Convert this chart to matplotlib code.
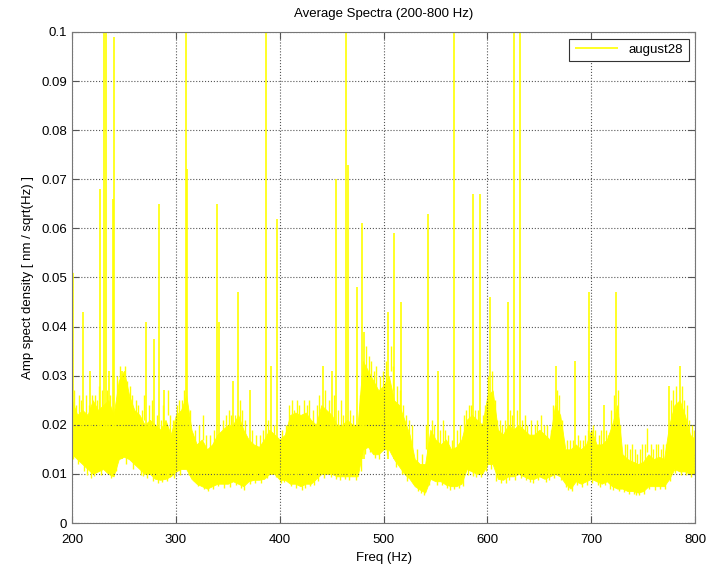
import numpy as np
import matplotlib
matplotlib.use('Agg')
import matplotlib.pyplot as plt

plt.rcParams['font.family'] = ['Liberation Sans', 'DejaVu Sans']

# banda de ruido: envelope inferior e superior a cada 5 Hz
freq = np.arange(200, 801, 5)
superior = [0.025, 0.022, 0.023, 0.022, 0.025, 0.023, 0.024, 0.025, 0.022, 0.029,
            0.031, 0.026, 0.023, 0.022, 0.020, 0.021, 0.020, 0.019, 0.021, 0.018,
            0.022, 0.023, 0.026, 0.019, 0.016, 0.017, 0.015, 0.016, 0.018, 0.019,
            0.020, 0.020, 0.022, 0.019, 0.017, 0.016, 0.0155, 0.017, 0.019, 0.018,
            0.017, 0.018, 0.022, 0.0225, 0.022, 0.0225, 0.021, 0.020, 0.024, 0.023,
            0.022, 0.020, 0.020, 0.021, 0.020, 0.020, 0.033, 0.031, 0.029, 0.027,
            0.028, 0.030, 0.025, 0.024, 0.021, 0.018, 0.013, 0.012, 0.012, 0.019,
            0.017, 0.016, 0.017, 0.015, 0.0155, 0.017, 0.021, 0.022, 0.021, 0.020,
            0.026, 0.027, 0.019, 0.018, 0.020, 0.019, 0.020, 0.019, 0.018, 0.018,
            0.019, 0.018, 0.017, 0.024, 0.022, 0.015, 0.015, 0.016, 0.015, 0.016,
            0.019, 0.016, 0.016, 0.017, 0.020, 0.024, 0.014, 0.013, 0.0125, 0.012,
            0.0125, 0.014, 0.013, 0.0135, 0.013, 0.020, 0.024, 0.025, 0.022, 0.018,
            0.017]
inferior = [0.014, 0.013, 0.012, 0.011, 0.010, 0.0105, 0.011, 0.010, 0.0095, 0.013,
            0.0135, 0.013, 0.012, 0.011, 0.010, 0.010, 0.009, 0.0088, 0.009, 0.0095,
            0.0105, 0.011, 0.011, 0.009, 0.008, 0.0075, 0.007, 0.0075, 0.008, 0.008,
            0.008, 0.0085, 0.008, 0.0075, 0.0085, 0.0088, 0.0088, 0.009, 0.010, 0.010,
            0.0088, 0.0088, 0.008, 0.008, 0.0075, 0.008, 0.008, 0.009, 0.010, 0.010,
            0.010, 0.0095, 0.0095, 0.0095, 0.0095, 0.0095, 0.015, 0.0155, 0.014, 0.014,
            0.015, 0.015, 0.013, 0.0115, 0.010, 0.009, 0.0075, 0.0068, 0.0062, 0.009,
            0.0085, 0.0085, 0.0078, 0.0075, 0.0075, 0.008, 0.011, 0.0105, 0.010, 0.010,
            0.012, 0.012, 0.009, 0.0088, 0.0095, 0.0095, 0.010, 0.0095, 0.009, 0.009,
            0.0095, 0.009, 0.0095, 0.010, 0.0095, 0.008, 0.007, 0.0085, 0.008, 0.0085,
            0.009, 0.0085, 0.008, 0.0085, 0.0075, 0.007, 0.007, 0.0065, 0.0065, 0.0062,
            0.0065, 0.0075, 0.0075, 0.0075, 0.0075, 0.009, 0.011, 0.0105, 0.0105, 0.010,
            0.010]

# picos fortes - os que passam de 0.1 foram cortados no grafico
pico_freq = [200.5, 211, 217, 227, 231, 232.5, 236, 239.7, 240.7, 248,
             271, 279, 283.5, 289, 309.5, 311, 340, 342, 355, 360,
             371, 387, 392, 397.5, 442, 450, 454, 464, 465.5, 474,
             479.5, 481, 504, 510.5, 517, 543, 552, 568, 586, 593,
             602, 620, 626, 631, 666, 684.5, 698, 712, 724, 775, 785]
pico_alt = [0.051, 0.043, 0.031, 0.068, 0.15, 0.15, 0.031, 0.066, 0.099, 0.031,
            0.041, 0.0375, 0.065, 0.027, 0.15, 0.072, 0.065, 0.041, 0.029, 0.047,
            0.027, 0.15, 0.032, 0.062, 0.032, 0.031, 0.070, 0.15, 0.073, 0.048,
            0.061, 0.039, 0.043, 0.059, 0.045, 0.063, 0.031, 0.15, 0.067, 0.067,
            0.046, 0.045, 0.15, 0.15, 0.032, 0.033, 0.047, 0.024, 0.047, 0.028, 0.032]

# dentes pequenos acima da banda (borda serrilhada)
dente_freq = [202, 204, 207, 209, 213, 216, 219, 222, 224, 226, 229, 234, 237, 243, 246,
              249, 251, 253, 256, 258, 262, 264, 267, 269, 274, 277, 282, 286, 288, 292,
              294, 297, 301, 303, 306, 308, 314, 318, 322, 326, 329, 333, 337, 345, 348,
              351, 353, 357, 362, 364, 367, 373, 377, 381, 384, 389, 394, 402, 406, 409,
              412, 414, 417, 419, 423, 426, 428, 432, 436, 438, 444, 447, 452, 456, 459,
              461, 468, 471, 477, 483, 486, 488, 491, 493, 497, 499, 502, 507, 509, 513,
              516, 519, 522, 524, 527, 532, 537, 541, 547, 549, 554, 557, 559, 562, 566,
              571, 574, 577, 579, 582, 584, 588, 591, 596, 598, 601, 604, 607, 609, 612,
              614, 617, 622, 624, 628, 633, 636, 638, 642, 646, 648, 652, 654, 657, 661,
              663, 667, 669, 672, 677, 679, 682, 687, 689, 692, 694, 697, 702, 704, 707,
              709, 714, 716, 719, 722, 726, 728, 732, 734, 737, 739, 742, 744, 747, 749,
              752, 753.7, 757, 759, 762, 764, 767, 769, 772, 777, 779, 782, 787, 789, 792,
              794, 797, 799]
dente_alt = [0.027, 0.024, 0.026, 0.025, 0.026, 0.024, 0.026, 0.026, 0.025, 0.028, 0.027, 0.027, 0.026, 0.030, 0.032,
             0.030, 0.032, 0.029, 0.028, 0.026, 0.025, 0.024, 0.023, 0.026, 0.024, 0.025, 0.022, 0.021, 0.024, 0.027,
             0.022, 0.021, 0.024, 0.025, 0.025, 0.027, 0.023, 0.019, 0.020, 0.022, 0.018, 0.018, 0.019, 0.021, 0.022,
             0.023, 0.022, 0.022, 0.025, 0.023, 0.021, 0.019, 0.018, 0.018, 0.019, 0.021, 0.020, 0.019, 0.020, 0.024,
             0.025, 0.023, 0.025, 0.024, 0.025, 0.024, 0.025, 0.023, 0.024, 0.026, 0.027, 0.025, 0.026, 0.023, 0.025,
             0.022, 0.023, 0.022, 0.026, 0.036, 0.034, 0.033, 0.031, 0.032, 0.030, 0.031, 0.033, 0.036, 0.032, 0.028,
             0.027, 0.024, 0.022, 0.021, 0.020, 0.015, 0.014, 0.020, 0.021, 0.020, 0.019, 0.021, 0.019, 0.018, 0.017,
             0.019, 0.020, 0.022, 0.023, 0.024, 0.024, 0.023, 0.023, 0.022, 0.024, 0.030, 0.031, 0.025, 0.021, 0.021,
             0.020, 0.021, 0.023, 0.022, 0.023, 0.021, 0.022, 0.020, 0.021, 0.020, 0.021, 0.022, 0.020, 0.020, 0.019,
             0.024, 0.027, 0.026, 0.021, 0.017, 0.017, 0.017, 0.018, 0.017, 0.017, 0.018, 0.019, 0.020, 0.019, 0.018,
             0.019, 0.019, 0.018, 0.023, 0.026, 0.027, 0.020, 0.016, 0.016, 0.015, 0.016, 0.015, 0.014, 0.015, 0.016,
             0.016, 0.0194, 0.016, 0.015, 0.016, 0.016, 0.015, 0.016, 0.016, 0.025, 0.027, 0.028, 0.028, 0.025, 0.024,
             0.021, 0.020, 0.019]

# vales pequenos abaixo da banda
vale_freq = [201, 206, 212, 214, 218, 221, 228, 238, 242, 252, 259, 266, 268, 272, 278,
             283, 287, 291, 298, 304, 313, 317, 321, 327, 331, 336, 341, 346, 352, 358,
             363, 366, 371, 376, 382, 388, 396, 401, 404, 411, 416, 421, 424, 429, 433,
             437, 443, 449, 454, 458, 463, 467, 473, 478, 482, 487, 492, 496, 503, 508,
             512, 518, 523, 528, 533, 536, 539, 544, 551, 556, 561, 564, 568, 573, 576,
             581, 586, 589, 594, 599, 603, 608, 613, 618, 621, 627, 632, 637, 641, 644,
             649, 656, 659, 664, 671, 676, 678, 681, 686, 691, 696, 701, 706, 708, 713,
             718, 721, 727, 731, 736, 741, 743, 746, 751, 756, 761, 766, 771, 776, 781,
             786, 791, 796]
vale_alt = [0.013, 0.012, 0.0105, 0.0098, 0.0092, 0.0095, 0.0098, 0.0092, 0.0105, 0.012, 0.011, 0.0098, 0.0095, 0.0092, 0.0085,
            0.0082, 0.0084, 0.0086, 0.0092, 0.0098, 0.0098, 0.0085, 0.0075, 0.007, 0.0066, 0.0069, 0.0075, 0.0072, 0.0074, 0.0078,
            0.0072, 0.0068, 0.008, 0.0082, 0.0082, 0.0092, 0.0094, 0.0082, 0.0084, 0.0075, 0.0072, 0.0068, 0.0072, 0.0076, 0.0078,
            0.0086, 0.0092, 0.0094, 0.009, 0.0088, 0.009, 0.0088, 0.0088, 0.0105, 0.014, 0.0145, 0.0132, 0.013, 0.0138, 0.014,
            0.0115, 0.010, 0.0086, 0.0082, 0.0066, 0.0062, 0.0058, 0.0078, 0.0078, 0.0078, 0.0072, 0.0068, 0.007, 0.0072, 0.0075,
            0.0098, 0.0096, 0.0094, 0.0094, 0.0105, 0.011, 0.0085, 0.0082, 0.0082, 0.0088, 0.0088, 0.0092, 0.0088, 0.0084, 0.0082,
            0.0088, 0.0084, 0.0088, 0.0092, 0.0088, 0.0074, 0.0068, 0.0065, 0.0078, 0.0074, 0.0078, 0.0082, 0.0078, 0.0074, 0.0078,
            0.007, 0.0068, 0.0065, 0.0064, 0.006, 0.006, 0.0058, 0.0058, 0.006, 0.007, 0.0068, 0.007, 0.007, 0.0085, 0.0102,
            0.0098, 0.0098, 0.0094]

amarelo = '#ffff00'

fig = plt.figure(figsize=(7.13, 5.67), dpi=100)
ax = fig.add_axes([0.101, 0.0776, 0.874, 0.866])

ax.fill_between(freq, inferior, superior, color=amarelo, linewidth=0.6, edgecolor=amarelo)
dente_alt = np.array(dente_alt)
vale_alt = np.array(vale_alt)
ax.vlines(dente_freq, dente_alt - 0.005, dente_alt, color=amarelo, linewidth=1.0)
ax.vlines(vale_freq, vale_alt, vale_alt + 0.003, color=amarelo, linewidth=1.0)
ax.vlines(pico_freq, 0.013, pico_alt, color=amarelo, linewidth=1.2, label='august28')

ax.set_xlim(200, 800)
ax.set_ylim(0, 0.1)
ax.set_xticks(np.arange(200, 801, 100))
ax.set_yticks(np.arange(0, 0.101, 0.01))
ax.set_yticklabels(['0', '0.01', '0.02', '0.03', '0.04', '0.05', '0.06', '0.07', '0.08', '0.09', '0.1'])
ax.grid(True, linestyle=':', color='#555555', linewidth=0.8)
ax.tick_params(direction='in', top=True, right=True, labelsize=9.5, length=5, color='#555555')
ax.tick_params(axis='x', pad=8)
for s in ax.spines.values():
    s.set_color('#777777')

ax.set_title('Average Spectra (200-800 Hz)', fontsize=9.5, pad=11)
ax.set_xlabel('Freq (Hz)', fontsize=9.5)
ax.set_ylabel('Amp spect density [ nm / sqrt(Hz) ]', fontsize=9.5, labelpad=5)

leg = ax.legend(loc='upper right', fontsize=9.5, fancybox=False, framealpha=1,
                edgecolor='#333333', handlelength=3.3)
leg.get_frame().set_linewidth(0.8)

fig.savefig('out.png', dpi=100)
